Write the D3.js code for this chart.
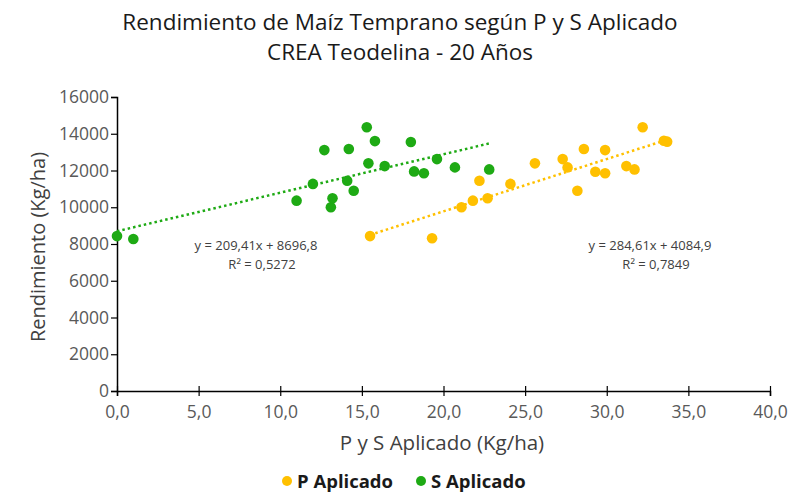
<!DOCTYPE html>
<html>
<head>
<meta charset="utf-8">
<script src="https://cdn.jsdelivr.net/npm/d3@7"></script>
<style>
  body { margin: 0; background: #fff; }
  text { font-family: "Open Sans", "Noto Sans", sans-serif; }
</style>
</head>
<body>
<svg id="chart" width="790" height="497"></svg>
<script>
// P Aplicado (x = kg/ha, y = rendimiento)
let p_x = [15.5, 19.3, 21.1, 21.8, 22.7, 22.2, 24.1, 25.6, 27.3, 27.6, 28.6, 29.9, 29.3, 29.9, 28.2, 31.2, 31.7, 32.2, 33.5, 33.7];
let p_y = [8430, 8310, 10000, 10360, 10490, 11440, 11270, 12390, 12620, 12170, 13170, 13110, 11930, 11850, 10900, 12240, 12060, 14350, 13620, 13570];
// S Aplicado
let s_x = [0.0, 1.0, 11.0, 12.0, 12.7, 13.1, 13.2, 14.2, 14.1, 14.5, 15.3, 15.4, 15.8, 16.4, 18.0, 18.2, 18.8, 19.6, 20.7, 22.8];
let s_y = [8430, 8270, 10360, 11270, 13110, 10000, 10490, 13170, 11440, 10900, 14350, 12390, 13600, 12240, 13550, 11950, 11850, 12620, 12170, 12060];

let series_names = ["P Aplicado", "S Aplicado"];
let series_colors = ["#ffc000", "#1eaa14"];
// trend lines as printed on the chart: slope, intercept
let trend_slope = [284.61, 209.41];
let trend_intercept = [4084.9, 8696.8];
let trend_labels = [["y = 284,61x + 4084,9", "R² = 0,7849"], ["y = 209,41x + 8696,8", "R² = 0,5272"]];

let x_ticks = [0, 5, 10, 15, 20, 25, 30, 35, 40];
let y_ticks = [0, 2000, 4000, 6000, 8000, 10000, 12000, 14000, 16000];

const svg = d3.select("#chart");
const plotLeft = 117, plotRight = 770, plotTop = 97, plotBottom = 391;

const x = d3.scaleLinear().domain([0, 40]).range([plotLeft, plotRight]);
const y = d3.scaleLinear().domain([0, 16000]).range([plotBottom, plotTop]);

// title
svg.append("text")
  .attr("x", 400).attr("y", 30)
  .attr("text-anchor", "middle")
  .attr("font-size", 22.5)
  .attr("fill", "#1a1a1a")
  .text("Rendimiento de Maíz Temprano según P y S Aplicado");
svg.append("text")
  .attr("x", 400).attr("y", 60)
  .attr("text-anchor", "middle")
  .attr("font-size", 22.5)
  .attr("fill", "#1a1a1a")
  .text("CREA Teodelina - 20 Años");

// axes
const yAxis = svg.append("g")
  .attr("transform", `translate(${plotLeft},0)`)
  .call(d3.axisLeft(y).tickValues(y_ticks).tickSize(6).tickPadding(2).tickFormat(d3.format("d")));
const xAxis = svg.append("g")
  .attr("transform", `translate(0,${plotBottom})`)
  .call(d3.axisBottom(x).tickValues(x_ticks).tickSize(5).tickPadding(10)
    .tickFormat((d) => d3.format(".1f")(d).replace(".", ",")));

[xAxis, yAxis].forEach((g) => {
  g.select(".domain").attr("stroke", "#000").attr("stroke-width", 1.5);
  g.selectAll(".tick line").attr("stroke", "#000").attr("stroke-width", 1.2);
  g.selectAll(".tick text").attr("fill", "#595959").attr("font-size", 17.5)
    .attr("font-family", "'Open Sans', sans-serif");
});
xAxis.selectAll(".tick line").attr("y1", -5);

svg.append("text")
  .attr("transform", `translate(45,${(plotTop + plotBottom) / 2 + 3}) rotate(-90)`)
  .attr("text-anchor", "middle")
  .attr("font-size", 20)
  .attr("fill", "#404040")
  .text("Rendimiento (Kg/ha)");
svg.append("text")
  .attr("x", 442).attr("y", 450)
  .attr("text-anchor", "middle")
  .attr("font-size", 20.5)
  .attr("fill", "#404040")
  .text("P y S Aplicado (Kg/ha)");

const series = [
  { xs: p_x, ys: p_y },
  { xs: s_x, ys: s_y }
];

// trend lines
series.forEach((s, i) => {
  const [x0, x1] = d3.extent(s.xs);
  const f = (v) => trend_slope[i] * v + trend_intercept[i];
  svg.append("line")
    .attr("x1", x(x0)).attr("y1", y(f(x0)))
    .attr("x2", x(x1)).attr("y2", y(f(x1)))
    .attr("stroke", series_colors[i])
    .attr("stroke-width", 2.5)
    .attr("stroke-dasharray", "2.5,3");
});

// points
series.forEach((s, i) => {
  svg.append("g")
    .selectAll("circle")
    .data(s.xs.map((v, j) => [v, s.ys[j]]))
    .join("circle")
    .attr("cx", (d) => x(d[0]))
    .attr("cy", (d) => y(d[1]))
    .attr("r", 5.3)
    .attr("fill", series_colors[i]);
});

// trend equations
const label_pos = [[650, 250], [256, 250]];
trend_labels.forEach((lines, i) => {
  const t = svg.append("text")
    .attr("text-anchor", "middle")
    .attr("font-size", 13)
    .attr("fill", "#404040");
  lines.forEach((l, k) => {
    t.append("tspan")
      .attr("x", label_pos[i][0] + (k ? 6 : 0))
      .attr("y", label_pos[i][1] + k * 19)
      .text(l);
  });
});

// legend
const legend = svg.append("g").attr("transform", "translate(287,481)");
const legend_x = [0, 134];
series_names.forEach((name, i) => {
  const g = legend.append("g").attr("transform", `translate(${legend_x[i]},0)`);
  g.append("circle").attr("r", 5).attr("fill", series_colors[i]);
  g.append("text")
    .attr("x", 10).attr("y", 6.5)
    .attr("font-size", 18.5)
    .attr("font-weight", "bold")
    .attr("fill", "#1a1a1a")
    .text(name);
});
</script>
</body>
</html>
